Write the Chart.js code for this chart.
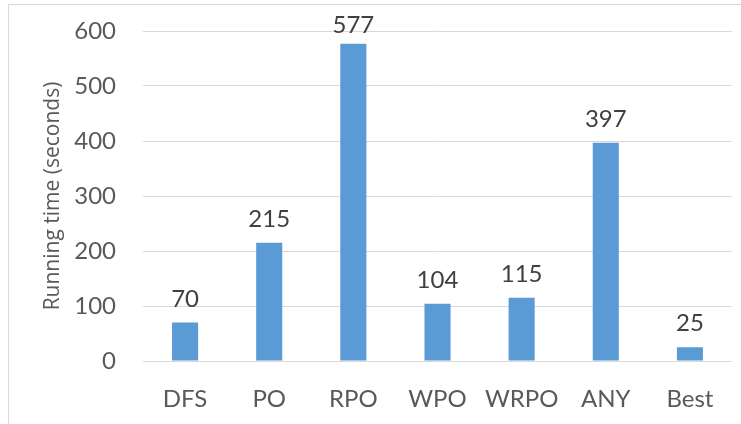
<!DOCTYPE html>
<html>
<head>
<meta charset="utf-8">
<script src="https://cdn.jsdelivr.net/npm/chart.js@4"></script>
<style>
  html, body { margin: 0; padding: 0; background: #fff; }
  #wrap { position: relative; width: 741px; height: 424px; }
  #frame { position: absolute; left: 8px; top: 4px; width: 740px; height: 430px; border: 1px solid #d9d9d9; box-sizing: border-box; }
  canvas { position: absolute; left: 0; top: 0; }
</style>
</head>
<body>
<div id="wrap">
  <div id="frame"></div>
  <canvas id="runTimeChart" width="741" height="424"></canvas>
</div>
<script>
  const methods = ['DFS', 'PO', 'RPO', 'WPO', 'WRPO', 'ANY', 'Best'];
  const runningTimes = [70, 215, 577, 104, 115, 397, 25];
  const yTicks = [0, 100, 200, 300, 400, 500, 600];

  // labels above each bar, kept inside the plot top
  const barLabels = {
    id: 'barLabels',
    afterDatasetsDraw(chart) {
      const ctx = chart.ctx;
      ctx.save();
      ctx.font = '24px Lato';
      ctx.fillStyle = '#404040';
      ctx.textAlign = 'center';
      ctx.textBaseline = 'alphabetic';
      chart.getDatasetMeta(0).data.forEach((bar, i) => {
        const y = Math.max(bar.y - 16, chart.chartArea.top + 2);
        ctx.fillText(runningTimes[i], bar.x, y);
      });
      ctx.restore();
    }
  };

  const runTime = document.getElementById('runTimeChart');
  const runTimeChart = new Chart(runTime, {
      type: 'bar',
      data: {
          labels: methods,
          datasets: [{
              label: 'Running time',
              data: runningTimes,
              backgroundColor: '#5b9bd5',
              borderWidth: 0,
              categoryPercentage: 1,
              barPercentage: 0.31
          }]
      },
      options: {
          responsive: false,
          animation: false,
          layout: { autoPadding: false, padding: { top: 31, right: 9, left: 0, bottom: 0 } },
          plugins: {
              legend: { display: false },
              tooltip: { enabled: false }
          },
          scales: {
              x: {
                  grid: { display: false, drawTicks: false },
                  border: { display: false },
                  ticks: { color: '#595959', font: { family: 'Lato', size: 24 }, padding: 24 },
                  afterFit(scale) { scale.height = 63; }
              },
              y: {
                  min: 0,
                  max: 600,
                  grid: { color: '#d9d9d9', lineWidth: 1, drawTicks: false },
                  border: { display: false },
                  afterBuildTicks(scale) { scale.ticks = yTicks.map(v => ({ value: v })); },
                  ticks: { color: '#595959', font: { family: 'Lato', size: 24 }, padding: 27 },
                  title: {
                      display: true,
                      text: 'Running time (seconds)',
                      color: '#595959',
                      font: { family: 'Open Sans', size: 21 },
                      padding: { top: 40, bottom: 0 }
                  },
                  afterFit(scale) {
                      scale.width = 143;
                      scale.paddingTop = 0;
                      scale.paddingBottom = 0;
                  }
              }
          }
      },
      plugins: [barLabels]
  });
</script>
</body>
</html>
